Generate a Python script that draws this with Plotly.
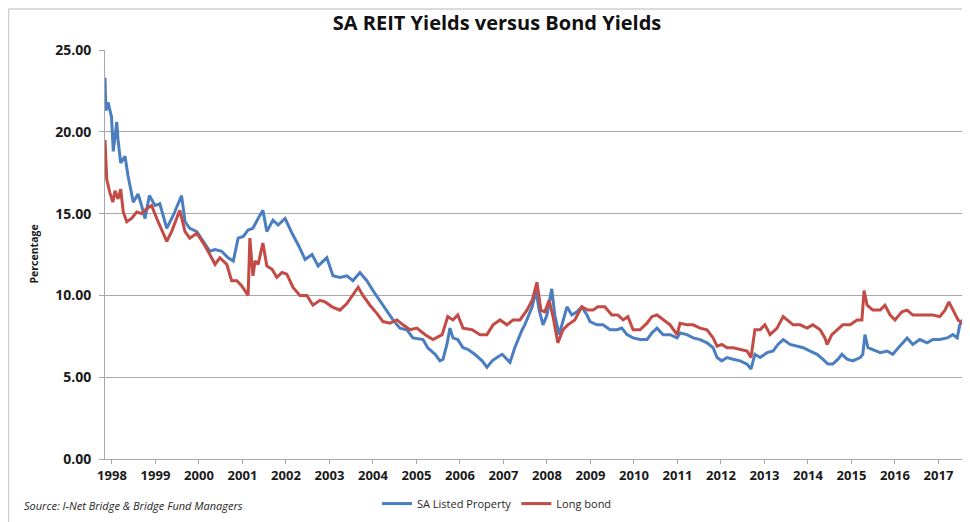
import plotly.graph_objects as go

# ---- data (decimal years) ----
reit_years = [1997.84, 1997.86, 1997.91, 1997.99, 1998.03, 1998.11, 1998.14, 1998.20, 1998.30, 1998.37,
              1998.49, 1998.60, 1998.68, 1998.76, 1998.86, 1998.99, 1999.10, 1999.26, 1999.41, 1999.60,
              1999.68, 1999.79, 1999.95, 2000.10, 2000.25, 2000.37, 2000.52, 2000.67, 2000.79, 2000.90,
              2001.02, 2001.13, 2001.24, 2001.36, 2001.47, 2001.56, 2001.70, 2001.82, 2001.98, 2002.14,
              2002.28, 2002.44, 2002.60, 2002.74, 2002.94, 2003.08, 2003.24, 2003.40, 2003.54, 2003.70,
              2003.86, 2004.00, 2004.16, 2004.32, 2004.46, 2004.62, 2004.78, 2004.92, 2005.08, 2005.15,
              2005.26, 2005.43, 2005.54, 2005.61, 2005.70, 2005.77, 2005.84, 2005.95, 2006.07, 2006.18,
              2006.34, 2006.51, 2006.62, 2006.74, 2006.85, 2006.97, 2007.08, 2007.15, 2007.26, 2007.33,
              2007.43, 2007.49, 2007.56, 2007.66, 2007.75, 2007.82, 2007.91, 2008.00, 2008.11, 2008.18,
              2008.28, 2008.37, 2008.46, 2008.57, 2008.69, 2008.80, 2008.92, 2008.99, 2009.15, 2009.29,
              2009.45, 2009.61, 2009.72, 2009.84, 2009.98, 2010.14, 2010.30, 2010.41, 2010.53, 2010.67,
              2010.83, 2010.99, 2011.06, 2011.22, 2011.36, 2011.52, 2011.68, 2011.82, 2011.91, 2012.02,
              2012.14, 2012.28, 2012.44, 2012.60, 2012.69, 2012.78, 2012.90, 2013.06, 2013.20, 2013.31,
              2013.43, 2013.59, 2013.75, 2013.89, 2014.05, 2014.21, 2014.34, 2014.46, 2014.57, 2014.69,
              2014.78, 2014.90, 2015.03, 2015.20, 2015.26, 2015.31, 2015.38, 2015.49, 2015.66, 2015.82,
              2015.95, 2016.11, 2016.28, 2016.41, 2016.57, 2016.74, 2016.87, 2017.03, 2017.20, 2017.33,
              2017.43, 2017.49, 2017.61]
reit_yield = [23.3, 21.3, 21.8, 20.9, 18.8, 20.6, 19.5, 18.1, 18.5, 17.3,
              15.7, 16.2, 15.5, 14.7, 16.1, 15.5, 15.6, 14.1, 14.9, 16.1,
              14.5, 14.1, 13.9, 13.3, 12.7, 12.8, 12.7, 12.3, 12.1, 13.5,
              13.6, 14.0, 14.1, 14.7, 15.2, 13.9, 14.6, 14.3, 14.7, 13.8,
              13.1, 12.2, 12.5, 11.8, 12.3, 11.2, 11.1, 11.2, 10.9, 11.4,
              10.9, 10.3, 9.7, 9.1, 8.5, 8.0, 7.9, 7.4, 7.3, 7.3,
              6.8, 6.4, 6.0, 6.1, 7.0, 8.0, 7.4, 7.3, 6.8, 6.7,
              6.4, 6.0, 5.6, 6.0, 6.2, 6.4, 6.1, 5.9, 6.8, 7.3,
              7.9, 8.2, 8.7, 9.3, 10.3, 9.1, 8.2, 8.8, 10.4, 8.8,
              7.6, 8.4, 9.3, 8.8, 9.0, 9.3, 8.8, 8.4, 8.2, 8.2,
              7.9, 7.9, 8.0, 7.6, 7.4, 7.3, 7.3, 7.7, 8.0, 7.6,
              7.6, 7.4, 7.7, 7.6, 7.4, 7.3, 7.1, 6.8, 6.2, 6.0,
              6.2, 6.1, 6.0, 5.8, 5.5, 6.4, 6.2, 6.5, 6.6, 7.0,
              7.3, 7.0, 6.9, 6.8, 6.6, 6.4, 6.1, 5.8, 5.8, 6.1,
              6.4, 6.1, 6.0, 6.2, 6.4, 7.6, 6.8, 6.7, 6.5, 6.6,
              6.4, 6.9, 7.4, 7.0, 7.3, 7.1, 7.3, 7.3, 7.4, 7.6,
              7.4, 8.2, 8.7]

bond_years = [1997.84, 1997.88, 1997.95, 1998.02, 1998.07, 1998.14, 1998.20, 1998.26, 1998.34, 1998.45,
              1998.57, 1998.68, 1998.80, 1998.91, 1999.03, 1999.14, 1999.26, 1999.37, 1999.56, 1999.68,
              1999.79, 1999.95, 2000.10, 2000.25, 2000.37, 2000.48, 2000.64, 2000.75, 2000.87, 2000.98,
              2001.06, 2001.13, 2001.17, 2001.24, 2001.29, 2001.36, 2001.47, 2001.56, 2001.68, 2001.79,
              2001.91, 2002.02, 2002.16, 2002.32, 2002.48, 2002.62, 2002.78, 2002.90, 2003.06, 2003.24,
              2003.40, 2003.54, 2003.66, 2003.77, 2003.93, 2004.09, 2004.23, 2004.39, 2004.55, 2004.69,
              2004.85, 2005.01, 2005.20, 2005.38, 2005.59, 2005.72, 2005.84, 2005.95, 2006.07, 2006.28,
              2006.46, 2006.62, 2006.76, 2006.92, 2007.08, 2007.22, 2007.38, 2007.54, 2007.66, 2007.77,
              2007.86, 2007.95, 2008.05, 2008.14, 2008.25, 2008.37, 2008.48, 2008.64, 2008.80, 2008.94,
              2009.06, 2009.17, 2009.33, 2009.49, 2009.63, 2009.75, 2009.86, 2009.98, 2010.14, 2010.30,
              2010.41, 2010.53, 2010.67, 2010.83, 2010.99, 2011.06, 2011.22, 2011.36, 2011.52, 2011.68,
              2011.82, 2011.91, 2012.02, 2012.14, 2012.28, 2012.44, 2012.60, 2012.69, 2012.78, 2012.90,
              2013.01, 2013.13, 2013.29, 2013.43, 2013.52, 2013.66, 2013.82, 2013.98, 2014.11, 2014.28,
              2014.39, 2014.44, 2014.55, 2014.67, 2014.80, 2014.97, 2015.13, 2015.24, 2015.29, 2015.36,
              2015.49, 2015.66, 2015.77, 2015.89, 2016.00, 2016.16, 2016.28, 2016.41, 2016.57, 2016.74,
              2016.87, 2017.03, 2017.15, 2017.24, 2017.33, 2017.45, 2017.61]
bond_yield = [19.5, 17.1, 16.3, 15.7, 16.4, 15.9, 16.5, 15.1, 14.5, 14.7,
              15.1, 15.0, 15.3, 15.5, 14.7, 14.0, 13.3, 13.9, 15.2, 13.9,
              13.5, 13.8, 13.2, 12.5, 11.9, 12.3, 11.9, 10.9, 10.9, 10.6,
              10.3, 10.0, 13.5, 11.2, 12.1, 11.9, 13.2, 11.8, 11.6, 11.1,
              11.4, 11.3, 10.5, 10.0, 10.0, 9.4, 9.7, 9.6, 9.3, 9.1,
              9.5, 10.0, 10.5, 10.0, 9.4, 8.9, 8.4, 8.3, 8.5, 8.2,
              7.9, 8.0, 7.6, 7.3, 7.6, 8.7, 8.5, 8.8, 8.0, 7.9,
              7.6, 7.6, 8.2, 8.5, 8.2, 8.5, 8.5, 9.1, 9.7, 10.8,
              9.1, 9.0, 9.7, 8.7, 7.1, 7.9, 8.2, 8.5, 9.3, 9.1,
              9.1, 9.3, 9.3, 8.8, 8.8, 8.5, 8.7, 7.9, 7.9, 8.3,
              8.7, 8.8, 8.5, 8.2, 7.6, 8.3, 8.2, 8.2, 8.0, 7.9,
              7.4, 6.9, 7.0, 6.8, 6.8, 6.7, 6.6, 6.2, 7.9, 7.9,
              8.2, 7.6, 8.0, 8.7, 8.5, 8.2, 8.2, 8.0, 8.2, 7.9,
              7.4, 7.0, 7.6, 7.9, 8.2, 8.2, 8.5, 8.5, 10.3, 9.4,
              9.1, 9.1, 9.4, 8.8, 8.5, 9.0, 9.1, 8.8, 8.8, 8.8,
              8.8, 8.7, 9.1, 9.6, 9.1, 8.5, 8.2]

tick_years = list(range(1998, 2018))
tick_labels = [str(y) for y in tick_years]
y_ticks = [0, 5, 10, 15, 20, 25]

FONT = "Open Sans"
GRID = "#a8a8a8"

# page body has an 8px margin: figure coords = screen coords - 8
L, R, T, B = 97, 13, 42, 67
PW, PH = 970 - L - R, 522 - T - B


def px(x):
    return (x - 8 - L) / PW


def py(y):
    return (522 - B - (y - 8)) / PH


fig = go.Figure()
fig.add_trace(go.Scatter(x=reit_years, y=reit_yield, mode="lines", name="SA Listed Property",
                         line=dict(color="#4a7ec0", width=3)))
fig.add_trace(go.Scatter(x=bond_years, y=bond_yield, mode="lines", name="Long bond",
                         line=dict(color="#c44a45", width=3)))

fig.update_layout(
    width=970, height=522,
    margin=dict(l=L, r=R, t=T, b=B),
    paper_bgcolor="white", plot_bgcolor="white",
    font=dict(family=FONT, color="#262626"),
    title=dict(text="<b>SA REIT Yields versus Bond Yields</b>", x=(497 - 8) / 970, xanchor="center",
               y=1 - (23 - 8) / 522, yanchor="middle", font=dict(size=20, color="#111111")),
    showlegend=True,
    legend=dict(orientation="h", x=px(377), xanchor="left", y=py(508), yanchor="middle",
                font=dict(size=11, color="#262626"), bgcolor="rgba(0,0,0,0)",
                itemwidth=30, tracegroupgap=0),
    xaxis=dict(range=[1997.84, 2017.61], tickmode="array", tickvals=tick_years, ticktext=tick_labels,
               showgrid=False, zeroline=False, showline=True, linecolor=GRID, linewidth=1,
               ticks="outside", ticklen=4, tickcolor=GRID,
               tickfont=dict(size=13, family=FONT, color="#1a1a1a", weight="bold")),
    yaxis=dict(range=[0, 25], tickmode="array", tickvals=y_ticks, tickformat=".2f",
               showgrid=True, gridcolor=GRID, gridwidth=1.2, zeroline=False,
               showline=True, linecolor=GRID, linewidth=1,
               ticks="outside", ticklen=5, tickcolor=GRID, ticklabelstandoff=5,
               tickfont=dict(size=14, family=FONT, color="#1a1a1a", weight="bold")),
    annotations=[
        dict(text="<b>Percentage</b>", xref="paper", yref="paper", x=px(33), y=0.5,
             textangle=-90, showarrow=False, xanchor="center", yanchor="middle",
             font=dict(size=10.5, color="#1a1a1a")),
        dict(text="<i>Source: I-Net Bridge &amp; Bridge Fund Managers</i>", xref="paper", yref="paper",
             x=px(22), y=py(510), xanchor="left", yanchor="middle",
             showarrow=False, font=dict(size=11, color="#262626")),
    ],
    shapes=[
        dict(type="line", xref="paper", yref="paper", x0=px(8.5), x1=px(8.5),
             y0=py(530), y1=py(8.5), line=dict(color="#cfcfcf", width=1.5)),
        dict(type="line", xref="paper", yref="paper", x0=px(8.5), x1=px(980),
             y0=py(8.5), y1=py(8.5), line=dict(color="#cfcfcf", width=1.5)),
    ],
)

fig.write_html("out.html")
